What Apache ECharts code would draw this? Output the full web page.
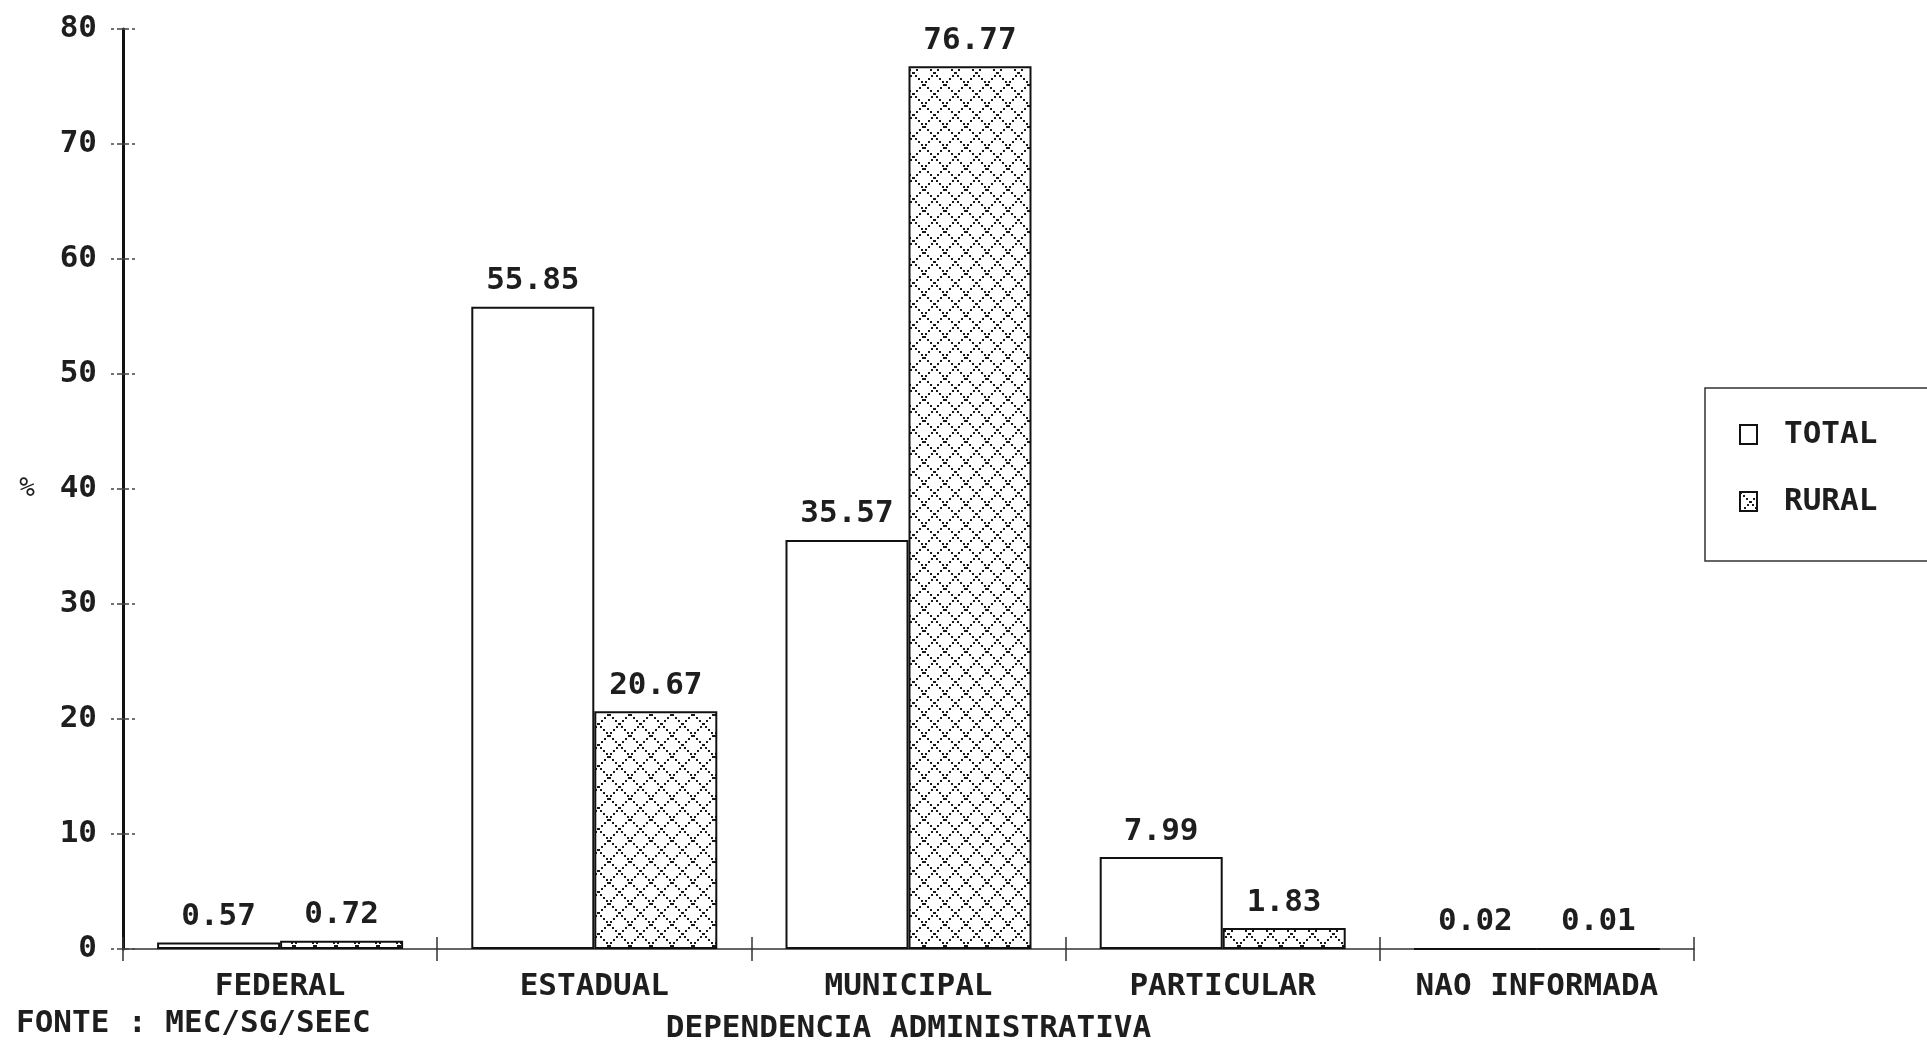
<!DOCTYPE html>
<html>
<head>
<meta charset="utf-8">
<script src="https://cdn.jsdelivr.net/npm/echarts@6/dist/echarts.min.js"></script>
<style>
html,body{margin:0;padding:0;background:#fff;}
#c{width:1927px;height:1041px;}
</style>
</head>
<body>
<div id="c"></div>
<script>
const categories = ['FEDERAL', 'ESTADUAL', 'MUNICIPAL', 'PARTICULAR', 'NAO INFORMADA'];
const totalValues = [0.57, 55.85, 35.57, 7.99, 0.02];
const ruralValues = [0.72, 20.67, 76.77, 1.83, 0.01];
const seriesNames = ['TOTAL', 'RURAL'];
const yTicks = [0, 10, 20, 30, 40, 50, 60, 70, 80];

const FONT = '"DejaVu Sans Mono", "Liberation Mono", monospace';
const INK = '#1e1e1e';
const FS = 31;

// crosshatch pattern for RURAL
const T = 21;
const tile = document.createElement('canvas');
tile.width = T; tile.height = T;
const g = tile.getContext('2d');
g.fillStyle = '#ffffff';
g.fillRect(0, 0, T, T);
g.fillStyle = '#1a1a1a';
for (let i = 0; i < T; i += 3) {
  g.fillRect(i, i, 2, 2);
  g.fillRect(T - 2 - i, i, 2, 2);
}

const chart = echarts.init(document.getElementById('c'), null, {renderer: 'canvas'});

const labelStyle = {
  show: true,
  position: 'top',
  distance: 10,
  fontFamily: FONT,
  fontSize: FS,
  fontWeight: 'bold',
  color: INK,
  formatter: p => p.value.toFixed(2)
};

chart.setOption({
  animation: false,
  backgroundColor: '#ffffff',
  textStyle: {fontFamily: FONT, color: INK},
  title: {
    text: 'FONTE : MEC/SG/SEEC',
    left: 16,
    top: 1008,
    padding: 0,
    textStyle: {fontFamily: FONT, fontSize: FS, fontWeight: 'bold', color: INK}
  },
  grid: {left: 123, right: 233, top: 29, bottom: 92, containLabel: false, outerBoundsMode: 'none'},
  legend: {
    orient: 'vertical',
    left: 1705,
    top: 388,
    padding: [31, 300, 44, 34],
    itemGap: 36,
    itemWidth: 17,
    itemHeight: 19,
    icon: 'rect',
    borderColor: '#333',
    borderWidth: 1.5,
    textStyle: {fontFamily: FONT, fontSize: FS, fontWeight: 'bold', color: INK, padding: [0, 0, 0, 22]},
    data: seriesNames
  },
  xAxis: [{
    type: 'category',
    data: categories,
    name: 'DEPENDENCIA ADMINISTRATIVA',
    nameLocation: 'middle',
    nameGap: 64,
    nameTextStyle: {fontFamily: FONT, fontSize: FS, fontWeight: 'bold', color: INK},
    axisLine: {show: true, lineStyle: {color: '#333', width: 1.5}},
    axisTick: {show: true, length: 12, lineStyle: {color: '#333', width: 1.5}},
    axisLabel: {fontFamily: FONT, fontSize: FS, fontWeight: 'bold', color: INK, margin: 22, interval: 0}
  }, {
    type: 'category',
    data: categories,
    position: 'bottom',
    axisLine: {show: false},
    axisTick: {show: true, inside: true, length: 12, lineStyle: {color: '#333', width: 1.5}},
    axisLabel: {show: false}
  }],
  yAxis: [{
    type: 'value',
    min: 0,
    max: 80,
    interval: 10,
    name: '%',
    nameLocation: 'middle',
    nameRotate: 0,
    nameGap: 88,
    nameTextStyle: {fontFamily: FONT, fontSize: 26, color: INK},
    splitLine: {show: false},
    axisLine: {show: true, lineStyle: {color: '#111', width: 3}},
    axisTick: {show: true, length: 12, lineStyle: {color: '#444', width: 1.5, type: 'dashed'}},
    axisLabel: {fontFamily: FONT, fontSize: FS, fontWeight: 'bold', color: INK, margin: 26,
      formatter: v => yTicks.indexOf(v) >= 0 ? String(v) : ''}
  }, {
    type: 'value',
    min: 0,
    max: 80,
    interval: 10,
    position: 'left',
    splitLine: {show: false},
    axisLine: {show: false},
    axisTick: {show: true, inside: true, length: 12, lineStyle: {color: '#444', width: 1.5, type: 'dashed'}},
    axisLabel: {show: false}
  }],
  series: [{
    name: seriesNames[0],
    type: 'bar',
    data: totalValues,
    barWidth: 123,
    barGap: '0%',
    itemStyle: {color: '#ffffff', borderColor: '#111', borderWidth: 2},
    label: labelStyle
  }, {
    name: seriesNames[1],
    type: 'bar',
    data: ruralValues,
    barWidth: 123,
    barGap: '0%',
    itemStyle: {color: {image: tile, repeat: 'repeat'}, borderColor: '#111', borderWidth: 2},
    label: labelStyle
  }]
});
</script>
</body>
</html>
